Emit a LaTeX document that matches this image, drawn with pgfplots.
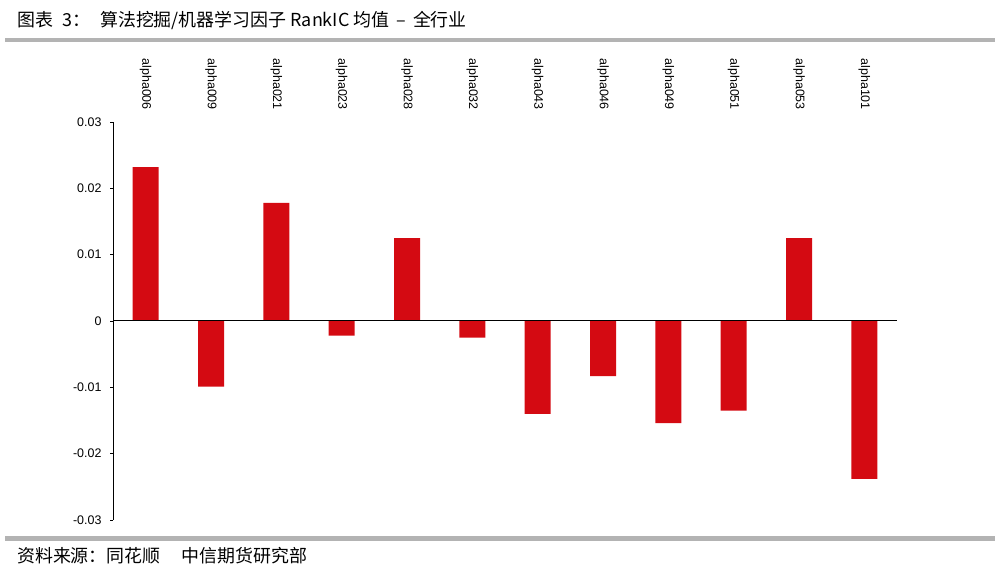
\documentclass[border=0pt]{standalone}
\usepackage{pgfplots}
\pgfplotsset{compat=1.18}
\usepackage{pgfplotstable}
\usepackage{fontspec}
\setmainfont{Liberation Sans}
\newfontfamily\cjk{Noto Sans CJK SC}
\definecolor{barred}{RGB}{212,10,18}
\definecolor{rulegray}{RGB}{179,179,179}

\pgfplotstableread{
x val
0 0.0232
1 -0.0099
2 0.0178
3 -0.0022
4 0.0125
5 -0.0025
6 -0.0140
7 -0.0083
8 -0.0154
9 -0.0135
10 0.0125
11 -0.0238
}\ictable

\begin{document}
\begin{tikzpicture}
\path[use as bounding box] (0,0) rectangle (1002bp,578bp);
% header and footer rules
\fill[rulegray] (5bp,535.5bp) rectangle (995bp,539.5bp);
\fill[rulegray] (5bp,37bp) rectangle (995bp,41.5bp);
\node[anchor=base west, inner sep=0pt] at (17bp,551bp) {\cjk\fontsize{18}{21}\selectfont 图表\hspace{9bp}3：};
\node[anchor=base west, inner sep=0pt] at (100bp,551bp) {\cjk\fontsize{18}{21}\selectfont 算法挖掘/机器学习因子 RankIC 均值\hspace{7bp}–\hspace{7bp}全行业};
\node[anchor=base west, inner sep=0pt] at (17bp,16bp) {\cjk\fontsize{18}{21}\selectfont 资料来源：同花顺\hspace{21bp}中信期货研究部};
\begin{axis}[
  at={(113bp,58bp)}, anchor=south west,
  scale only axis, width=784bp, height=398bp,
  ybar, bar width=26bp,
  xmin=-0.5, xmax=11.5, ymin=-0.03, ymax=0.03,
  axis y line*=left, axis x line*=top,
  x axis line style={draw=none},
  y axis line style={black, line width=0.8bp},
  xtick=data,
  xticklabels={alpha006,alpha009,alpha021,alpha023,alpha028,alpha032,alpha043,alpha046,alpha049,alpha051,alpha053,alpha101},
  xticklabel style={yshift=9bp, rotate=-90, anchor=east, inner sep=0pt, font=\fontsize{12.5}{14}\selectfont},
  xtick style={draw=none},
  ytick={-0.03,-0.02,-0.01,0,0.01,0.02,0.03},
  yticklabel style={xshift=-5bp, font=\fontsize{12.5}{14}\selectfont, /pgf/number format/fixed, /pgf/number format/precision=2},
  /pgf/number format/assume math mode=true,
  scaled y ticks=false,
  ytick style={black, line width=0.8bp},
  tick align=outside, major tick length=3bp,
  clip=false,
]
\addplot[fill=barred, draw=none] table[x=x, y=val] {\ictable};
\addplot[sharp plot, black, line width=1bp, no marks, forget plot] coordinates {(-0.5,0) (11.5,0)};
\end{axis}
\end{tikzpicture}
\end{document}
